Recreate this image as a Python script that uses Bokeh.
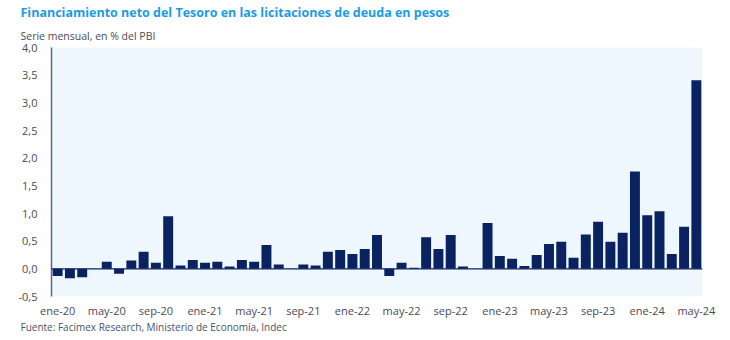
from bokeh.plotting import figure
from bokeh.models import Title, Span, FixedTicker, ColumnDataSource
from bokeh.embed import file_html
from bokeh.resources import INLINE

months = ["ene", "feb", "mar", "abr", "may", "jun", "jul", "ago", "sep", "oct", "nov", "dic"]
periods = [f"{m}-{y}" for y in ["20", "21", "22", "23"] for m in months] + [f"{m}-24" for m in months[:5]]

values = [
    -0.13, -0.17, -0.15, 0.0, 0.13, -0.09, 0.15, 0.31, 0.11, 0.95, 0.06, 0.16,   # 2020
    0.11, 0.13, 0.04, 0.16, 0.13, 0.43, 0.08, 0.0, 0.08, 0.06, 0.31, 0.34,       # 2021
    0.27, 0.36, 0.61, -0.13, 0.11, 0.02, 0.57, 0.36, 0.61, 0.04, 0.0, 0.83,      # 2022
    0.23, 0.18, 0.05, 0.25, 0.45, 0.49, 0.20, 0.62, 0.85, 0.49, 0.65, 1.76,      # 2023
    0.97, 1.04, 0.27, 0.76, 3.41,                                                # 2024
]

y_ticks = [-0.5, 0.0, 0.5, 1.0, 1.5, 2.0, 2.5, 3.0, 3.5, 4.0]

title_text = "Financiamiento neto del Tesoro en las licitaciones de deuda en pesos"
subtitle_text = "Serie mensual, en % del PBI"
source_text = "Fuente: Facimex Research, Ministerio de Economía, Indec"

idx = list(range(len(values)))
src = ColumnDataSource(dict(x=idx, top=values, label=periods))

p = figure(width=730, height=340, output_backend="svg", toolbar_location=None,
           x_range=(-0.5, len(values) - 0.5), y_range=(-0.5, 4.0),
           title=None, min_border_left=51, min_border_right=28,
           min_border_top=0, min_border_bottom=44)

p.background_fill_color = "#eef7fd"
p.border_fill_color = "white"
p.outline_line_color = None
p.grid.visible = False

p.vbar(x="x", top="top", bottom=0, width=0.81, source=src,
       fill_color="#0b2260", line_color=None)

p.add_layout(Span(location=0, dimension="width", line_color="#0b2260", line_width=1.2))

# y axis
p.yaxis.ticker = FixedTicker(ticks=y_ticks)
p.yaxis.major_label_overrides = {t: f"{t:.1f}".replace(".", ",") for t in y_ticks}
p.yaxis.major_tick_line_color = None
p.yaxis.minor_tick_line_color = None
p.yaxis.axis_line_color = "#5a6888"
p.yaxis.axis_line_width = 1.5
p.yaxis.major_label_text_font = "Open Sans"
p.yaxis.major_label_text_font_size = "11px"
p.yaxis.major_label_text_color = "#4a4a55"
p.yaxis.major_label_standoff = 8

# x axis
xt = idx[::4]
p.xaxis.ticker = FixedTicker(ticks=xt)
p.xaxis.major_label_overrides = {i: periods[i] for i in xt}
p.xaxis.major_tick_line_color = None
p.xaxis.minor_tick_line_color = None
p.xaxis.axis_line_color = None
p.xaxis.major_label_text_font = "Open Sans"
p.xaxis.major_label_text_font_size = "11px"
p.xaxis.major_label_text_color = "#4a4a55"
p.xaxis.major_label_standoff = 0

p.add_layout(Title(text=source_text, text_font="Open Sans", text_font_size="10px",
                   text_color="#4a5068", text_font_style="normal", offset=-31,
                   standoff=-6), "below")
p.add_layout(Title(text=subtitle_text, text_font="Open Sans", text_font_size="10.5px",
                   text_color="#4a4a55", text_font_style="normal", offset=-31,
                   standoff=10), "above")
p.add_layout(Title(text=title_text, text_font="Open Sans", text_font_size="12.5px",
                   text_color="#1a9be6", text_font_style="bold", offset=-31,
                   standoff=2), "above")

open("out.html", "w").write(file_html(p, INLINE))
